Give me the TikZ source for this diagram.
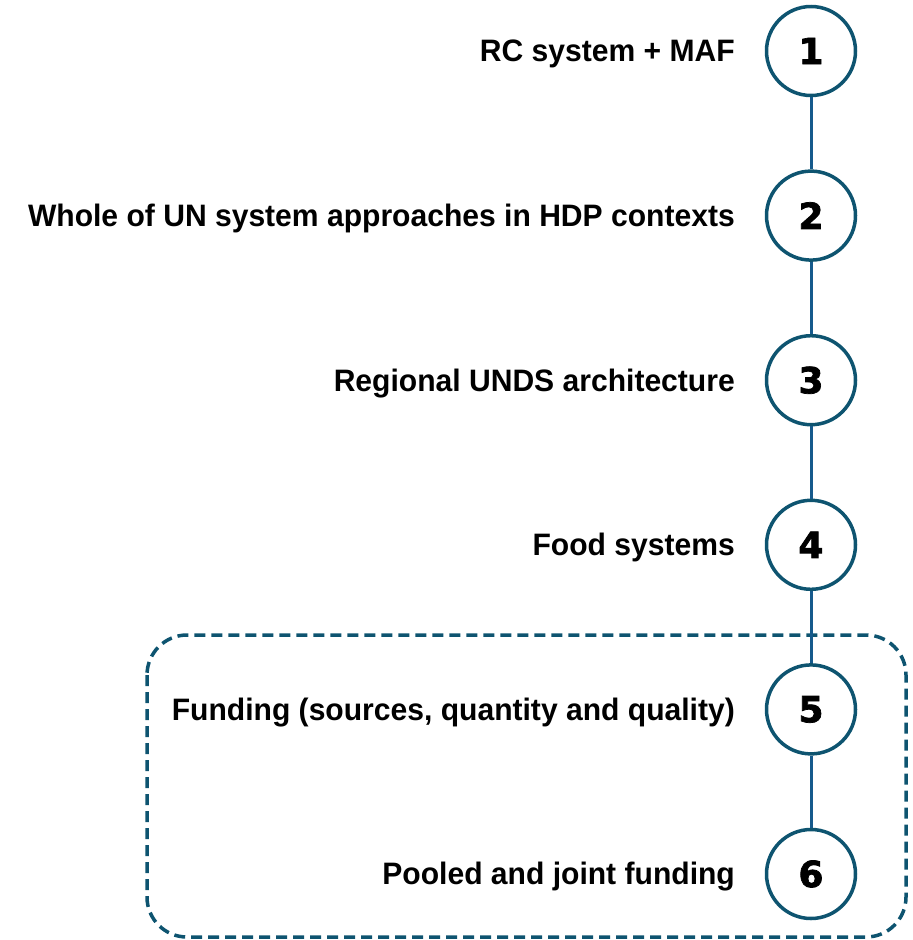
\documentclass[tikz,border=0pt]{standalone}
\usepackage{fontspec}
\setmainfont{Liberation Sans}[FakeStretch=0.97]
\newfontfamily\digitfont{DejaVu Sans}[BoldFeatures={FakeBold=2}]
\definecolor{ringcol}{HTML}{0E5470}
\definecolor{linkcol}{HTML}{165A8C}
\begin{document}
\begin{tikzpicture}[x=1pt,y=-1pt,
  stage/.style={circle,draw=ringcol,line width=3.5pt,minimum size=89pt,inner sep=0pt,
    font=\digitfont\bfseries\fontsize{36}{36}\selectfont},
  label/.style={anchor=east,inner sep=0pt,font=\bfseries\fontsize{31}{31}\selectfont},
  link/.style={draw=linkcol,line width=3pt},
  groupbox/.style={draw=ringcol,line width=3.5pt,dash pattern=on 11pt off 6pt,rounded corners=40pt}]
\useasboundingbox (0,0) rectangle (913,940);
% grouped funding stages
\draw[groupbox] (147,635) rectangle (906,937);
% numbered stages
\foreach \i/\t [count=\k from 0] in {1/RC system + MAF,
  2/Whole of UN system approaches in HDP contexts,
  3/Regional UNDS architecture,
  4/Food systems,
  5/{Funding (sources, quantity and quality)},
  6/Pooled and joint funding}{
  \node[stage] (s\i) at (811,{51+164.6*\k}) {\i};
  \node[label] (t\i) at (735,{54+164.6*\k}) {\t};
}
\foreach \a/\b in {1/2,2/3,3/4,4/5,5/6}
  \draw[link] (s\a) -- (s\b);
\end{tikzpicture}
\end{document}
